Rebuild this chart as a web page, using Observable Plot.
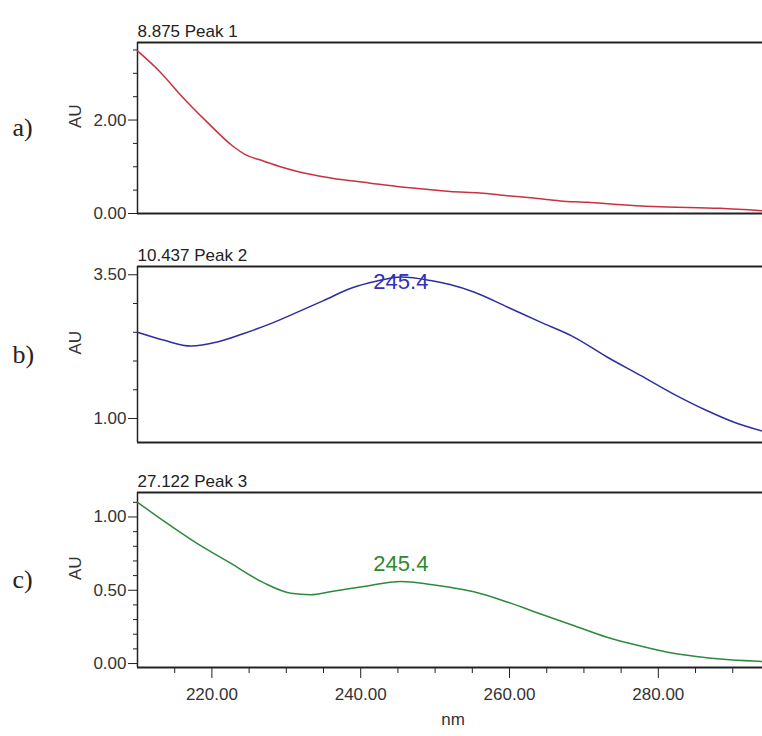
<!DOCTYPE html>
<html>
<head>
<meta charset="utf-8">
<script src="https://cdn.jsdelivr.net/npm/d3@7"></script>
<script src="https://cdn.jsdelivr.net/npm/@observablehq/plot@0.6"></script>
<style>
  html, body { margin: 0; padding: 0; background: #fff; overflow: hidden; }
  #wrap { position: relative; width: 762px; height: 736px; overflow: hidden; background: #fff; }
  #wrap > div { position: absolute; left: 0; }
</style>
</head>
<body>
<div id="wrap"></div>
<script>
// ---- data ----
const panelLabels = ["a)", "b)", "c)"];
const titles = ["8.875 Peak 1", "10.437 Peak 2", "27.122 Peak 3"];
const axisLabel = "AU";
const xLabel = "nm";

const nmA = [210, 213.1, 216, 219.4, 222.75, 224.5, 227, 229.2, 231.5, 234.2, 237.7, 241.3, 244.9, 249.4, 252, 256, 259.7, 263.2, 266.8, 270.4, 274, 279.3, 288.3, 294];
const auA = [3.48, 3.02, 2.50, 1.95, 1.45, 1.26, 1.12, 1.00, 0.90, 0.81, 0.72, 0.65, 0.58, 0.51, 0.47, 0.44, 0.38, 0.33, 0.27, 0.24, 0.20, 0.15, 0.11, 0.06];

const nmB = [210, 213.6, 217.2, 220.7, 224.3, 227.9, 231.5, 235, 238.6, 242.2, 245.4, 249.4, 252, 255.2, 259.7, 264.1, 268.6, 273.1, 277.6, 282, 286.5, 290.1, 294];
const auB = [2.50, 2.36, 2.26, 2.33, 2.48, 2.65, 2.85, 3.05, 3.26, 3.39, 3.46, 3.40, 3.33, 3.20, 2.94, 2.68, 2.42, 2.07, 1.75, 1.43, 1.14, 0.94, 0.78];

const nmC = [210, 213.6, 218, 222.5, 227, 230.6, 233.3, 235.9, 240.4, 245.4, 249.4, 252, 255.2, 259.7, 264.1, 268.6, 273.1, 277.6, 282, 286.5, 294];
const auC = [1.10, 0.97, 0.82, 0.685, 0.55, 0.48, 0.47, 0.49, 0.525, 0.56, 0.54, 0.52, 0.49, 0.42, 0.34, 0.26, 0.18, 0.12, 0.07, 0.04, 0.014];

const peakNm = 245.4;
const peakLabel = "245.4";

const yMajorA = [0, 2];
const yMinorA = [0.5, 1, 1.5, 2.5, 3, 3.5];
const yMajorB = [1, 3.5];
const yMinorB = [1.5, 2, 2.5, 3];
const yMajorC = [0, 0.5, 1];
const yMinorC = [0.1, 0.2, 0.3, 0.4, 0.6, 0.7, 0.8, 0.9, 1.1];
const xMajor = [220, 240, 260, 280];
const xMinor = [215, 225, 230, 235, 245, 250, 255, 265, 270, 275, 285, 290];

// ---- drawing ----
const xDomain = [210, 294];
const fmt = d3.format(".2f");
const sans = "'Liberation Sans', Arial, sans-serif";
const serif = "'Liberation Serif', 'Times New Roman', serif";
const frameColor = "#222";

function panel(cfg) {
  const data = cfg.nm.map((x, i) => ({nm: x, au: cfg.au[i]}));
  const marks = [
    Plot.ruleY([cfg.yDomain[1]], {stroke: frameColor, strokeWidth: 2}),
    Plot.ruleY([cfg.yDomain[0]], {stroke: frameColor, strokeWidth: 2}),
    Plot.ruleX([xDomain[0]], {stroke: frameColor, strokeWidth: 1.5}),
    Plot.axisY(cfg.yMajor, {anchor: "left", tickSize: 9, tickPadding: 2, tickFormat: fmt, label: null, stroke: frameColor, fill: "#333", fontSize: 17}),
    Plot.axisY(cfg.yMinor, {anchor: "left", tickSize: 4, label: null, stroke: frameColor, fill: "none"}),
    Plot.line(data, {x: "nm", y: "au", stroke: cfg.color, strokeWidth: 1.5, curve: "monotone-x"}),
    Plot.text([cfg.title], {frameAnchor: "top-left", textAnchor: "start", lineAnchor: "bottom", dy: -6, fontSize: 17, fill: "#222"}),
    Plot.text([cfg.label], {frameAnchor: "left", textAnchor: "start", dx: -125, fontSize: 26, fontFamily: serif, fill: "#2a2018"}),
    Plot.text([axisLabel], {frameAnchor: "left", dx: -62, rotate: -90, fontSize: 17, fill: "#333"})
  ];
  if (cfg.ann) {
    const i = cfg.nm.indexOf(peakNm);
    marks.push(Plot.text([{nm: peakNm, au: cfg.au[i]}], {x: "nm", y: "au", text: () => peakLabel, dy: cfg.annDy, fontSize: 22, fill: cfg.annColor}));
  }
  if (cfg.xAxis) {
    marks.push(
      Plot.axisX(xMajor, {anchor: "bottom", tickSize: 11, tickPadding: 9, tickFormat: fmt, label: null, stroke: frameColor, fill: "#333", fontSize: 17}),
      Plot.axisX(xMinor, {anchor: "bottom", tickSize: 6, label: null, stroke: frameColor, fill: "none"}),
      Plot.text([xLabel], {frameAnchor: "bottom", dx: 3, dy: 57, fontSize: 17, fill: "#333"})
    );
  }
  return Plot.plot({
    width: 762,
    height: cfg.height,
    marginLeft: 137,
    marginRight: 0,
    marginTop: cfg.mt,
    marginBottom: cfg.mb,
    style: {fontFamily: sans, fontSize: "17px", background: "#fff", overflow: "visible"},
    x: {domain: xDomain, axis: null},
    y: {domain: cfg.yDomain, axis: null},
    marks
  });
}

const wrap = document.getElementById("wrap");
const specs = [
  {top: 0, height: 220, mt: 42, mb: 7, yDomain: [0, 3.66], yMajor: yMajorA, yMinor: yMinorA, nm: nmA, au: auA, color: "#c8323f", title: titles[0], label: panelLabels[0]},
  {top: 222, height: 226, mt: 44, mb: 6, yDomain: [0.583, 3.644], yMajor: yMajorB, yMinor: yMinorB, nm: nmB, au: auB, color: "#2e2ea0", title: titles[1], label: panelLabels[1], ann: true, annDy: 5, annColor: "#3030b8"},
  {top: 448, height: 288, mt: 44, mb: 69, yDomain: [-0.027, 1.167], yMajor: yMajorC, yMinor: yMinorC, nm: nmC, au: auC, color: "#2d8a3e", title: titles[2], label: panelLabels[2], ann: true, annDy: -18, annColor: "#2e8a2e", xAxis: true}
];
for (const s of specs) {
  const d = document.createElement("div");
  d.style.top = s.top + "px";
  d.appendChild(panel(s));
  wrap.appendChild(d);
}
</script>
</body>
</html>
